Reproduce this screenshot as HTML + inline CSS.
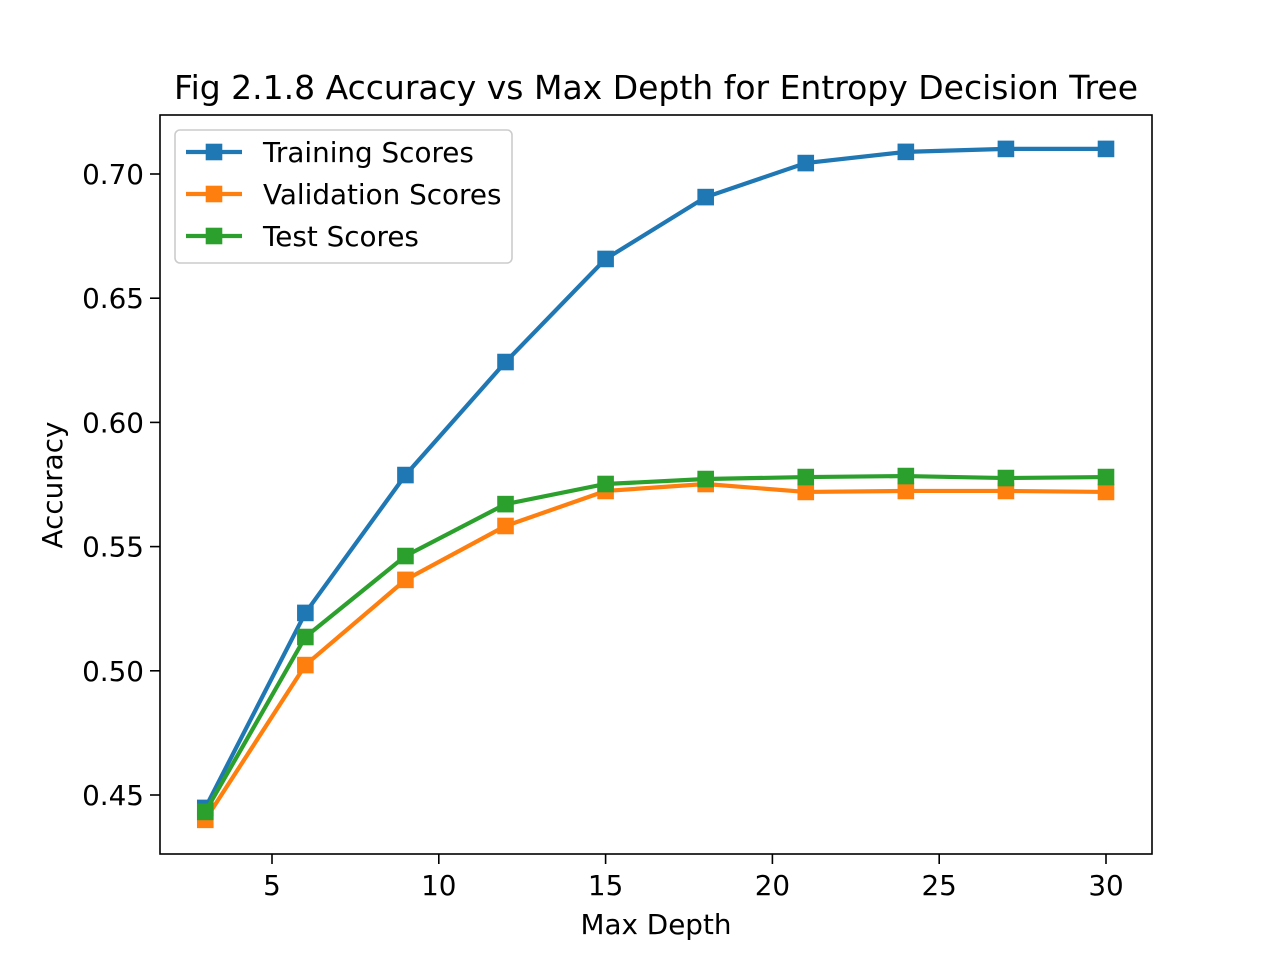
<!DOCTYPE html>
<html><head><meta charset="utf-8"><style>
body{margin:0;background:#fff}
svg{display:block;font-family:"DejaVu Sans","Liberation Sans",sans-serif}
</style></head><body>
<svg id="chart" width="1280" height="960" viewBox="0 0 1280 960" xmlns="http://www.w3.org/2000/svg">
<rect width="1280" height="960" fill="#fff"/>
<text x="656" y="99" font-size="33" text-anchor="middle">Fig 2.1.8 Accuracy vs Max Depth for Entropy Decision Tree</text>
<g id="grid"></g>
<g id="series"></g>
<rect x="160" y="115" width="992" height="739" fill="none" stroke="#000" stroke-width="1.6"/>
<text x="656" y="934" font-size="27.8" text-anchor="middle">Max Depth</text>
<text transform="translate(62,485) rotate(-90)" font-size="27.8" text-anchor="middle">Accuracy</text>
<g id="legend"></g>
</svg>
<script>
const depths=[3,6,9,12,15,18,21,24,27,30];
const training=[0.4448,0.5233,0.5788,0.6243,0.6658,0.6907,0.7044,0.7089,0.7101,0.7101];
const validation=[0.4400,0.5023,0.5366,0.5583,0.5724,0.5752,0.5720,0.5724,0.5724,0.5720];
const test=[0.4432,0.5136,0.5462,0.5671,0.5752,0.5772,0.5780,0.5784,0.5776,0.5780];
const xTicks=[5,10,15,20,25,30];
const yTicks=[0.45,0.50,0.55,0.60,0.65,0.70];
const yTickLabels=["0.45","0.50","0.55","0.60","0.65","0.70"];
const seriesNames=["Training Scores","Validation Scores","Test Scores"];
const colors=["#1f77b4","#ff7f0e","#2ca02c"];
const NS="http://www.w3.org/2000/svg";
const xs=v=>272+(v-5)*(1106-272)/25;
const ys=v=>174+(0.70-v)*(795-174)/0.25;
function mk(tag,attrs,parent){const e=document.createElementNS(NS,tag);for(const k in attrs)e.setAttribute(k,attrs[k]);parent.appendChild(e);return e;}
const g=document.getElementById('grid');
xTicks.forEach(t=>{
 const l=mk('line',{x1:xs(t),x2:xs(t),y1:854,y2:864,stroke:'#000','stroke-width':1.6},g);
 
 
 const tx=mk('text',{x:xs(t),y:895,'font-size':27.8,'text-anchor':'middle'},g);tx.textContent=t;
 
 
});
yTicks.forEach((t,i)=>{
 const l=mk('line',{x1:150,x2:160,y1:ys(t),y2:ys(t),stroke:'#000','stroke-width':1.6},g);
 
 
 const tx=mk('text',{x:144,y:ys(t)+10,'font-size':27.8,'text-anchor':'end'},g);tx.textContent=yTickLabels[i];
 
 
});
const s=document.getElementById('series');
[training,validation,test].forEach((arr,k)=>{
 const pts=arr.map((v,i)=>xs(depths[i])+','+ys(v)).join(' ');
 const pl=mk('polyline',{points:pts,fill:'none',stroke:colors[k],'stroke-width':4.2},s);
 
 
 arr.forEach((v,i)=>{
  const r=mk('rect',{x:xs(depths[i])-8.3,y:ys(v)-8.3,width:16.6,height:16.6,fill:colors[k]},s);
  
  
 });
});
const lg=document.getElementById('legend');
mk('rect',{x:175,y:130,width:337,height:133,rx:5,fill:'#fff','fill-opacity':0.8,stroke:'#ccc','stroke-width':1.6},lg);
seriesNames.forEach((n,k)=>{
 const y=152+k*42;
 mk('line',{x1:186,x2:242,y1:y,y2:y,stroke:colors[k],'stroke-width':4.2},lg);
 mk('rect',{x:205.7,y:y-8.3,width:16.6,height:16.6,fill:colors[k]},lg);
 const t=mk('text',{x:263,y:y+10,'font-size':27.8},lg);t.textContent=n;
 
 
});
</script>
</body></html>
